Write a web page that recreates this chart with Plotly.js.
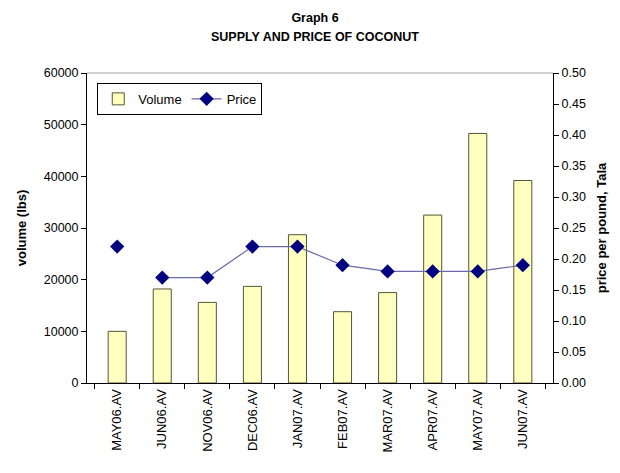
<!DOCTYPE html>
<html>
<head>
<meta charset="utf-8">
<script src="https://cdn.plot.ly/plotly-3.0.1.min.js"></script>
<style>html,body{margin:0;padding:0;background:#fff;}#chart{width:620px;height:473px;}</style>
</head>
<body>
<div id="chart"></div>
<script>
var categories = ["MAY06.AV","JUN06.AV","NOV06.AV","DEC06.AV","JAN07.AV","FEB07.AV","MAR07.AV","APR07.AV","MAY07.AV","JUN07.AV"];
var volume = [10000, 18200, 15600, 18700, 28700, 13800, 17500, 32500, 48300, 39200];
var price = [0.22, 0.17, 0.17, 0.22, 0.22, 0.19, 0.18, 0.18, 0.18, 0.19];
var titleLine = "Graph 6";
var subtitleLine = "SUPPLY AND PRICE OF COCONUT";

var fontFam = "Liberation Sans, Arial, sans-serif";
var traces = [
  {type:"bar", name:"Volume", x:categories, y:volume,
   marker:{color:"#ffffc0", line:{color:"#555533", width:1}}, yaxis:"y"},
  {type:"scatter", mode:"markers", name:"Price", showlegend:false,
   x:categories.slice(0,1), y:price.slice(0,1), yaxis:"y2",
   marker:{symbol:"diamond", color:"#000080", size:11}},
  {type:"scatter", mode:"lines+markers", name:"Price",
   x:categories.slice(1), y:price.slice(1), yaxis:"y2",
   line:{color:"#6a6aa8", width:1.2},
   marker:{symbol:"diamond", color:"#000080", size:11}}
];
var layout = {
  width:620, height:473,
  margin:{l:87, r:67, t:73, b:90},
  paper_bgcolor:"#fff", plot_bgcolor:"#fff",
  font:{family:fontFam, size:12, color:"#000"},
  title:{text:"<b>" + titleLine + "</b>", x:315/620, xanchor:"center", y:1 - 18/473, yanchor:"middle", font:{size:12.5, family:fontFam}},
  annotations:[{text:"<b>" + subtitleLine + "</b>", xref:"paper", yref:"paper", x:(315-87)/466, y:1 + (73-37)/310, xanchor:"center", yanchor:"middle", showarrow:false, font:{size:12.5, family:fontFam}}],
  bargap:0.6,
  showlegend:true,
  legend:{x:0.022, y:0.968, xanchor:"left", yanchor:"top", orientation:"h", bordercolor:"#000", borderwidth:1, bgcolor:"#fff", font:{size:13, family:fontFam}, traceorder:"normal", itemwidth:30},
  xaxis:{type:"category", showline:true, linecolor:"#000", linewidth:1, ticks:"outside", tickson:"boundaries", ticklen:5, tickcolor:"#000", tickangle:-90, tickfont:{size:13, family:fontFam}, showgrid:false, zeroline:false},
  yaxis:{range:[0,60000], dtick:10000, tickformat:"d", showline:true, linecolor:"#000", ticks:"outside", ticklen:5, tickcolor:"#000", showgrid:false, zeroline:false, tickfont:{size:12.5, family:fontFam},
    title:{text:"<b>volume (lbs)</b>", font:{size:13, family:fontFam}, standoff:14}},
  yaxis2:{range:[0,0.5], dtick:0.05, tickformat:".2f", overlaying:"y", side:"right", showline:true, linecolor:"#000", ticks:"outside", ticklen:5, tickcolor:"#000", showgrid:false, zeroline:false, tickfont:{size:12.5, family:fontFam},
    title:{text:"<b>price per pound, Tala</b>", font:{size:13, family:fontFam}, standoff:12}},
  shapes:[{type:"line", xref:"paper", yref:"paper", x0:0, x1:1, y0:1, y1:1, line:{color:"#a0a0a0", width:1}}]
};
Plotly.newPlot("chart", traces, layout, {displayModeBar:false, staticPlot:true});
</script>
</body>
</html>
